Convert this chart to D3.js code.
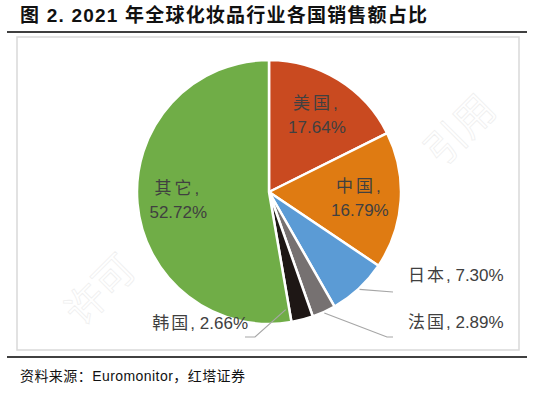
<!DOCTYPE html>
<html>
<head>
<meta charset="utf-8">
<script src="https://cdn.jsdelivr.net/npm/d3@7"></script>
<style>
  body { margin: 0; background: #fff; }
  svg { display: block; }
</style>
</head>
<body>
<div class="chart"></div>
<script>
const countries = ['美国', '中国', '日本', '法国', '韩国', '其它'];
const shares = [17.64, 16.79, 7.30, 2.89, 2.66, 52.72];
const sliceColors = ['#c94a20', '#df7b12', '#5b9bd5', '#767171', '#1e1715', '#70ad47'];
const insideLabels = ['美国', '中国', '其它'];

const width = 552;
const height = 395;
const cx = 269, cy = 192, R = 132;
const fontStack = '"Liberation Sans", Arial, "Noto Sans CJK SC", sans-serif';

const data = countries.map((c, i) => ({country: c, value: shares[i]}));

const color = d3.scaleOrdinal()
  .domain(countries)
  .range(sliceColors);

const svg = d3.select('.chart')
  .append('svg')
    .attr('width', width)
    .attr('height', height);

// faint watermark
const wm = svg.append('g')
  .attr('fill', 'none')
  .attr('stroke', '#efefef')
  .attr('stroke-width', 0.8)
  .attr('font-family', fontStack)
  .attr('font-size', 40);
[[470, 140, -45, '引用'], [110, 300, -45, '许可']].forEach(([x, y, r, t]) => {
  wm.append('text')
    .attr('transform', `translate(${x},${y}) rotate(${r})`)
    .attr('text-anchor', 'middle')
    .text(t);
});

// title
svg.append('text')
  .attr('x', 20)
  .attr('y', 22)
  .attr('font-family', fontStack)
  .attr('font-size', '19px')
  .attr('font-weight', 'bold')
  .attr('fill', '#111')
  .attr('textLength', 407)
  .attr('lengthAdjust', 'spacing')
  .text('图 2. 2021 年全球化妆品行业各国销售额占比');

svg.append('line')
  .attr('x1', 7).attr('x2', 527)
  .attr('y1', 32).attr('y2', 32)
  .attr('stroke', '#000')
  .attr('stroke-width', 1.5);

svg.append('rect')
  .attr('x', 17).attr('y', 37)
  .attr('width', 502).attr('height', 313)
  .attr('fill', 'none')
  .attr('stroke', '#d9d9d9')
  .attr('stroke-width', 1.5);

svg.append('line')
  .attr('x1', 7).attr('x2', 527)
  .attr('y1', 357).attr('y2', 357)
  .attr('stroke', '#000')
  .attr('stroke-width', 1.5);

svg.append('text')
  .attr('x', 20)
  .attr('y', 381)
  .attr('font-family', fontStack)
  .attr('font-size', '14px')
  .attr('fill', '#111')
  .attr('textLength', 225)
  .attr('lengthAdjust', 'spacing')
  .text('资料来源：Euromonitor，红塔证券');

// pie
const pie = d3.pie()
  .sort(null)
  .value(d => d.value);

const arcs = pie(data);

const arc = d3.arc()
  .innerRadius(0)
  .outerRadius(R);

const labelArc = d3.arc()
  .innerRadius(R * 0.69)
  .outerRadius(R * 0.69);

const g = svg.append('g')
  .attr('transform', `translate(${cx},${cy})`);

g.selectAll('path')
  .data(arcs)
  .enter()
  .append('path')
    .attr('d', arc)
    .attr('fill', d => color(d.data.country))
    .attr('stroke', '#fff')
    .attr('stroke-width', 2.5)
    .attr('stroke-linejoin', 'round');

const polar = (angle, r) => [Math.sin(angle) * r, -Math.cos(angle) * r];

// inside labels
const inside = g.selectAll('text.inside')
  .data(arcs.filter(d => insideLabels.includes(d.data.country)))
  .enter()
  .append('text')
    .attr('class', 'inside')
    .attr('text-anchor', 'middle')
    .attr('font-family', fontStack)
    .attr('font-size', '17px')
    .attr('fill', '#404040')
    .attr('transform', d => `translate(${labelArc.centroid(d)})`);

inside.append('tspan')
  .attr('x', 0)
  .attr('y', -6)
  .attr('letter-spacing', 3)
  .text(d => `${d.data.country},`);

inside.append('tspan')
  .attr('x', 0)
  .attr('y', 18)
  .text(d => `${d.data.value.toFixed(2)}%`);

// outside labels with leader lines (offsets from pie centre)
const outside = {
  '日本': {x: 139, y: 89, anchor: 'start', leader: d => [polar((d.startAngle + d.endAngle) / 2, R + 1), [124, 100]]},
  '法国': {x: 139, y: 136, anchor: 'start', leader: d => [polar((d.startAngle + d.endAngle) / 2, R + 1), [118, 145], [124, 145]]},
  '韩国': {x: -21, y: 137, anchor: 'end', leader: d => [polar(d.endAngle + 0.03, R * 0.9), [-14, 145], [-24, 145]]}
};

const outArcs = arcs.filter(d => outside[d.data.country]);

g.selectAll('path.leader')
  .data(outArcs)
  .enter()
  .append('path')
    .attr('class', 'leader')
    .attr('d', d => d3.line()(outside[d.data.country].leader(d)))
    .attr('fill', 'none')
    .attr('stroke', '#a6a6a6')
    .attr('stroke-width', 1.2);

const outText = g.selectAll('text.outside')
  .data(outArcs)
  .enter()
  .append('text')
    .attr('class', 'outside')
    .attr('x', d => outside[d.data.country].x)
    .attr('y', d => outside[d.data.country].y)
    .attr('text-anchor', d => outside[d.data.country].anchor)
    .attr('font-family', fontStack)
    .attr('font-size', '17px')
    .attr('fill', '#404040');

outText.append('tspan')
  .attr('letter-spacing', 2)
  .text(d => d.data.country);

outText.append('tspan')
  .text(d => `, ${d.data.value.toFixed(2)}%`);
</script>
</body>
</html>
